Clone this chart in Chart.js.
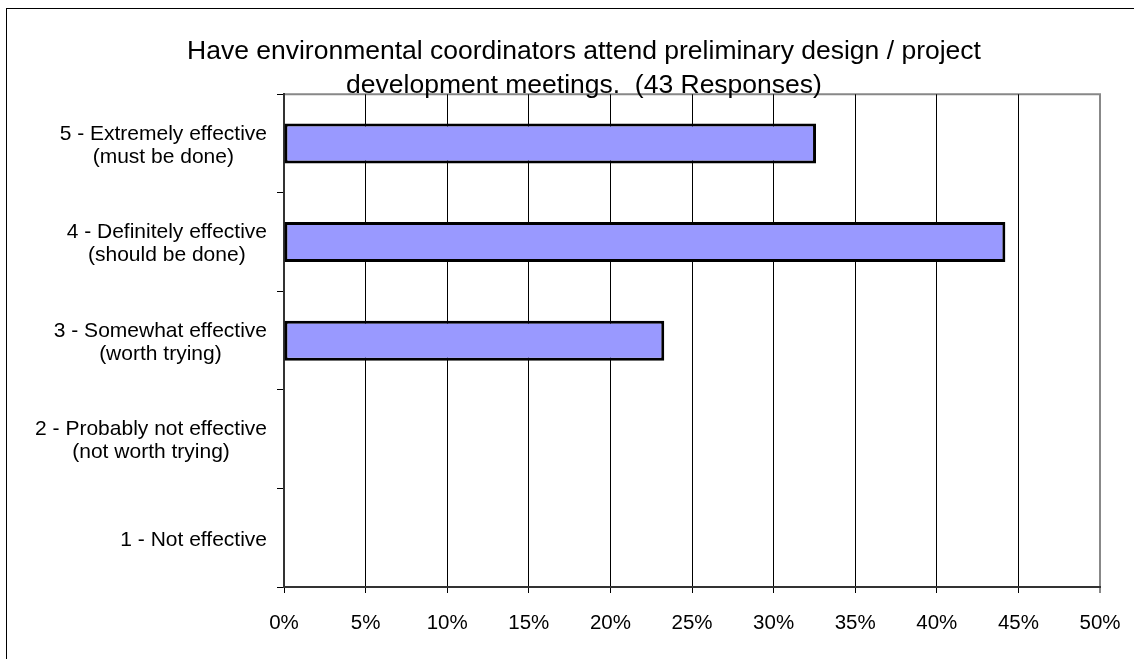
<!DOCTYPE html>
<html>
<head>
<meta charset="utf-8">
<title>Environmental coordinators chart</title>
<script src="https://cdn.jsdelivr.net/npm/chart.js@4"></script>
<style>
  html, body {
    margin: 0;
    padding: 0;
    background: #fff;
    overflow: hidden;
  }
  .frame {
    position: absolute;
    left: 6px;
    top: 8px;
    width: 2000px;
    height: 2000px;
    border-left: 1px solid #000;
    border-top: 1px solid #000;
  }
  .chart-box {
    position: absolute;
    left: 0;
    top: 0;
    width: 1134px;
    height: 659px;
  }
</style>
</head>
<body>
<div class="frame"></div>
<div class="chart-box">
  <canvas id="effectChart"></canvas>
</div>

<script>
// data
const titleLines = [
  "Have environmental coordinators attend preliminary design / project",
  "development meetings.  (43 Responses)",
];

const categories = [
  ["5 - Extremely effective", "(must be done)"],
  ["4 - Definitely effective", "(should be done)"],
  ["3 - Somewhat effective", "(worth trying)"],
  ["2 - Probably not effective", "(not worth trying)"],
  ["1 - Not effective"],
];

const percentValues = [32.6, 44.2, 23.3, 0, 0];

const xMin = 0;
const xMax = 50;
const xStep = 5;

const fontFamily = '"Liberation Sans", Arial, Helvetica, sans-serif';
const barColor = "#9999ff";

Chart.defaults.font.family = fontFamily;
Chart.defaults.color = "#000";

// gray top / right edge of the plot area, drawn first so text sits on top
const plotEdgePlugin = {
  id: "plotEdge",
  beforeDraw(chart) {
    const { ctx, chartArea } = chart;
    ctx.save();
    ctx.strokeStyle = "#888";
    ctx.lineWidth = 2;
    ctx.beginPath();
    ctx.moveTo(chartArea.left, chartArea.top);
    ctx.lineTo(chartArea.right, chartArea.top);
    ctx.lineTo(chartArea.right, chartArea.bottom);
    ctx.stroke();
    ctx.restore();
  },
};

// category labels: each block right aligned, its lines centred in the block
const categoryLabelPlugin = {
  id: "categoryLabels",
  afterDraw(chart) {
    const scale = chart.scales.y;
    const ctx = chart.ctx;
    ctx.save();
    ctx.font = "21px " + fontFamily;
    ctx.fillStyle = "#000";
    ctx.textAlign = "center";
    ctx.textBaseline = "middle";
    categories.forEach((lines, i) => {
      const y = scale.getPixelForValue(i) + 2;
      const widest = Math.max(...lines.map((l) => ctx.measureText(l).width));
      const cx = scale.right - 17 - widest / 2;
      lines.forEach((line, j) => {
        ctx.fillText(line, cx, y + (j - (lines.length - 1) / 2) * 23);
      });
    });
    ctx.restore();
  },
};

const ctx = document.querySelector("#effectChart");

new Chart(ctx, {
  type: "bar",
  data: {
    labels: categories,
    datasets: [
      {
        data: percentValues,
        backgroundColor: barColor,
        borderColor: "#000",
        borderWidth: 3,
        borderSkipped: false,
        barPercentage: 0.406,
        categoryPercentage: 1,
      },
    ],
  },
  options: {
    indexAxis: "y",
    responsive: true,
    maintainAspectRatio: false,
    animation: false,
    layout: {
      padding: { left: 34, right: 0, top: 0, bottom: 0 },
    },
    scales: {
      x: {
        min: xMin,
        max: xMax,
        border: { color: "#333", width: 2 },
        grid: {
          color: (c) => (c.tick && c.tick.value === xMax ? "#888" : "#000"),
          lineWidth: (c) => (c.tick && c.tick.value === xMax ? 2 : 1),
          tickLength: 6,
        },
        ticks: {
          stepSize: xStep,
          padding: 18,
          maxRotation: 0,
          font: { size: 20.5 },
          color: "#000",
          callback: (v) => v + "%",
        },
        afterFit(scale) {
          scale.height = 72;
          scale.paddingRight = 34;
        },
      },
      y: {
        border: { color: "#333", width: 2 },
        grid: {
          offset: true,
          drawOnChartArea: false,
          tickLength: 7,
          color: "#000",
        },
        ticks: {
          display: false,
        },
        afterFit(scale) {
          scale.width = 250;
        },
      },
    },
    plugins: {
      legend: { display: false },
      tooltip: { enabled: false },
      title: {
        display: true,
        text: titleLines,
        color: "#000",
        font: { size: 26.5, weight: "normal", lineHeight: 1.27 },
        padding: { top: 35, bottom: -8 },
      },
    },
  },
  plugins: [plotEdgePlugin, categoryLabelPlugin],
});
</script>
</body>
</html>
